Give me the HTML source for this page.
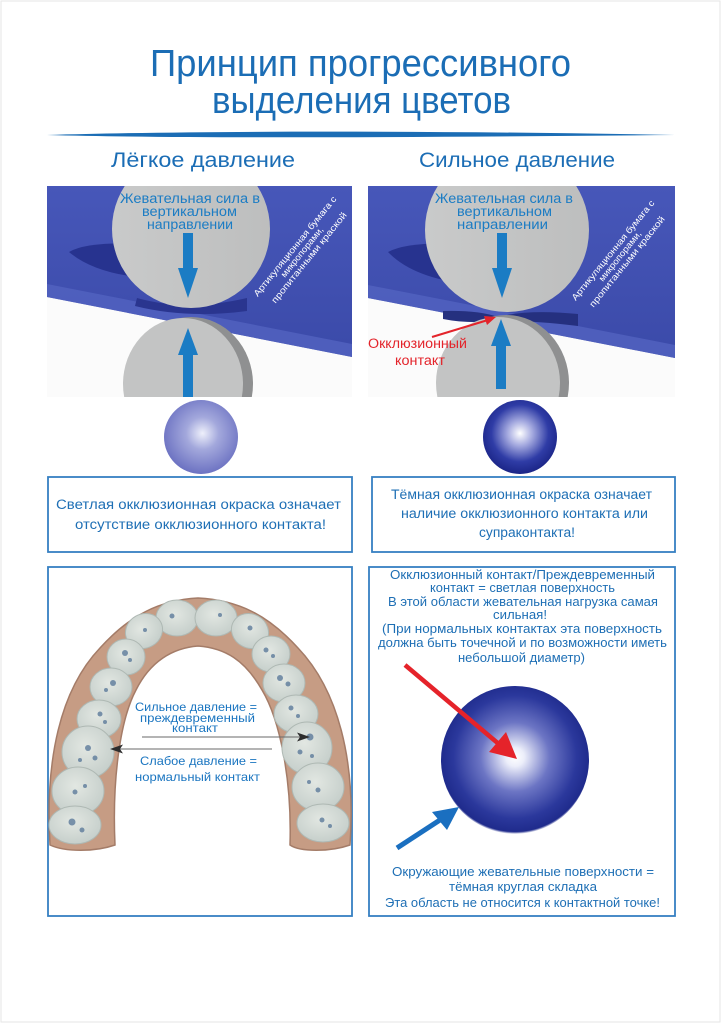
<!DOCTYPE html>
<html><head><meta charset="utf-8">
<style>
html,body{margin:0;padding:0;background:#fff;}
svg{display:block;}
text{font-family:"Liberation Sans","DejaVu Sans",sans-serif;}
</style></head>
<body>
<svg width="722" height="1024" viewBox="0 0 722 1024" xmlns="http://www.w3.org/2000/svg">
<defs>
  <linearGradient id="paper" x1="0" y1="0" x2="0" y2="1">
    <stop offset="0" stop-color="#4757b9"/>
    <stop offset="1" stop-color="#3b4aa9"/>
  </linearGradient>
  <linearGradient id="disc" x1="0" y1="0" x2="1" y2="0">
    <stop offset="0" stop-color="#c9caca"/>
    <stop offset="1" stop-color="#bdbebe"/>
  </linearGradient>
  <radialGradient id="sph1" cx="0.52" cy="0.45" r="0.55">
    <stop offset="0" stop-color="#eef0fb"/>
    <stop offset="0.4" stop-color="#a3a8dc"/>
    <stop offset="1" stop-color="#6c72c2"/>
  </radialGradient>
  <radialGradient id="sph2" cx="0.5" cy="0.45" r="0.55">
    <stop offset="0" stop-color="#ffffff"/>
    <stop offset="0.3" stop-color="#a6abe0"/>
    <stop offset="0.7" stop-color="#2f3ca6"/>
    <stop offset="1" stop-color="#1b2587"/>
  </radialGradient>
  <radialGradient id="sph3" cx="0.5" cy="0.48" r="0.52">
    <stop offset="0" stop-color="#ffffff"/>
    <stop offset="0.12" stop-color="#eceefa"/>
    <stop offset="0.45" stop-color="#6c75c4"/>
    <stop offset="0.8" stop-color="#2b389c"/>
    <stop offset="0.97" stop-color="#1f2b8c"/>
    <stop offset="1" stop-color="#1f2b8c" stop-opacity="0"/>
  </radialGradient>
  <radialGradient id="tooth" cx="0.45" cy="0.4" r="0.6">
    <stop offset="0" stop-color="#e2e7e2"/>
    <stop offset="1" stop-color="#c6cfcb"/>
  </radialGradient>
  <clipPath id="pc1"><rect x="0" y="0" width="305" height="211"/></clipPath>
  <clipPath id="pc2"><rect x="0" y="0" width="307" height="211"/></clipPath>
</defs>

<rect x="1" y="1" width="719" height="1021" fill="#fff" stroke="#e6e6e6" stroke-width="1"/>

<!-- Title -->
<text x="150" y="76" font-size="38" fill="#1b6db5" textLength="421" lengthAdjust="spacingAndGlyphs">Принцип прогрессивного</text>
<text x="212" y="113" font-size="38" fill="#1b6db5" textLength="299" lengthAdjust="spacingAndGlyphs">выделения цветов</text>
<path d="M47,135 C200,130.5 440,130.5 675,135 C440,137 200,139 47,135 Z" fill="#1b6db5"/>

<text x="111" y="167" font-size="21" fill="#1b6db5" textLength="184" lengthAdjust="spacingAndGlyphs">Лёгкое давление</text>
<text x="419" y="167" font-size="21" fill="#1b6db5" textLength="196" lengthAdjust="spacingAndGlyphs">Сильное давление</text>

<!-- Left top panel -->
<g transform="translate(47,186)">
 <g clip-path="url(#pc1)">
  <rect x="0" y="0" width="305" height="211" fill="#fbfbfb"/>
  <path d="M0,0 H305 V171 L0,111 Z" fill="url(#paper)"/>
  <path d="M0,98 L305,158 L305,171 L0,111 Z" fill="#5363c0" opacity="0.8"/>
  <path d="M22,66 Q40,55 100,58 L100,92 Q48,88 22,66 Z" fill="#27338f"/>
  <path d="M90,112 Q140,126 200,112 L200,125 Q140,133 88,120 Z" fill="#2a358f"/>
  <ellipse cx="144" cy="198" rx="62" ry="67" fill="#8f9091"/>
  <ellipse cx="136" cy="198" rx="60" ry="66" fill="#c3c4c4"/>
  <circle cx="144" cy="43" r="79" fill="url(#disc)"/>
  <rect x="136" y="47" width="10" height="37" fill="#1b7cc4"/>
  <polygon points="131,82 151,82 141,112" fill="#1b7cc4"/>
  <polygon points="131,169 151,169 141,142" fill="#1b7cc4"/>
  <rect x="136" y="167" width="10" height="44" fill="#1b7cc4"/>
  <text x="73" y="17" font-size="13.5" fill="#1b7cc4" textLength="140" lengthAdjust="spacingAndGlyphs">Жевательная сила в</text>
  <text x="95" y="30" font-size="13.5" fill="#1b7cc4" textLength="95" lengthAdjust="spacingAndGlyphs">вертикальном</text>
  <text x="100" y="43" font-size="13.5" fill="#1b7cc4" textLength="86" lengthAdjust="spacingAndGlyphs">направлении</text>
  <g transform="translate(255,66) rotate(-51)" fill="#ffffff" font-size="9" text-anchor="middle">
    <text x="0" y="-6" textLength="126" lengthAdjust="spacingAndGlyphs">Артикуляционная бумага с</text>
    <text x="0" y="3" textLength="62" lengthAdjust="spacingAndGlyphs">микропорами,</text>
    <text x="0" y="12" textLength="114" lengthAdjust="spacingAndGlyphs">пропитанными краской</text>
  </g>
 </g>
</g>

<!-- Right top panel -->
<g transform="translate(368,186)">
 <g clip-path="url(#pc2)">
  <rect x="0" y="0" width="307" height="211" fill="#fbfbfb"/>
  <path d="M0,0 H307 V172 L0,112 Z" fill="url(#paper)"/>
  <path d="M0,99 L307,159 L307,172 L0,112 Z" fill="#5363c0" opacity="0.8"/>
  <path d="M20,66 Q40,55 100,58 L100,98 Q45,92 20,66 Z" fill="#27338f"/>
  <path d="M75,125 Q110,124 130,131 Q160,123 210,128 L210,140 Q160,134 130,135 Q100,138 75,133 Z" fill="#25307f"/>
  <ellipse cx="138" cy="197" rx="63" ry="68" fill="#8f9091"/>
  <ellipse cx="130" cy="197" rx="62" ry="66" fill="#c3c4c4"/>
  <circle cx="139" cy="44" r="82" fill="url(#disc)"/>
  <rect x="129" y="47" width="10" height="37" fill="#1b7cc4"/>
  <polygon points="124,82 144,82 134,112" fill="#1b7cc4"/>
  <polygon points="123,160 143,160 133,133" fill="#1b7cc4"/>
  <rect x="128" y="158" width="10" height="45" fill="#1b7cc4"/>
  <text x="67" y="17" font-size="13.5" fill="#1b7cc4" textLength="138" lengthAdjust="spacingAndGlyphs">Жевательная сила в</text>
  <text x="89" y="30" font-size="13.5" fill="#1b7cc4" textLength="95" lengthAdjust="spacingAndGlyphs">вертикальном</text>
  <text x="89" y="43" font-size="13.5" fill="#1b7cc4" textLength="91" lengthAdjust="spacingAndGlyphs">направлении</text>
  <g transform="translate(252,70) rotate(-51)" fill="#ffffff" font-size="9" text-anchor="middle">
    <text x="0" y="-6" textLength="126" lengthAdjust="spacingAndGlyphs">Артикуляционная бумага с</text>
    <text x="0" y="3" textLength="62" lengthAdjust="spacingAndGlyphs">микропорами,</text>
    <text x="0" y="12" textLength="114" lengthAdjust="spacingAndGlyphs">пропитанными краской</text>
  </g>
  <line x1="64" y1="151" x2="120" y2="134" stroke="#e3242b" stroke-width="2"/>
  <polygon points="128,131 116,130 119,139" fill="#e3242b"/>
  <text x="0" y="162" font-size="13.5" fill="#e3242b" textLength="99" lengthAdjust="spacingAndGlyphs">Окклюзионный</text>
  <text x="27" y="179" font-size="13.5" fill="#e3242b" textLength="50" lengthAdjust="spacingAndGlyphs">контакт</text>
 </g>
</g>

<!-- Small spheres -->
<ellipse cx="201" cy="437" rx="37" ry="37" fill="url(#sph1)"/>
<ellipse cx="520" cy="437" rx="37" ry="37" fill="url(#sph2)"/>

<!-- Text boxes -->
<rect x="48" y="477" width="304" height="75" fill="none" stroke="#3680c2" stroke-width="1.8"/>
<rect x="372" y="477" width="303" height="75" fill="none" stroke="#3680c2" stroke-width="1.8"/>
<g font-size="13.5" fill="#1e6fb5">
 <text x="56" y="509" textLength="285" lengthAdjust="spacingAndGlyphs">Светлая окклюзионная окраска означает</text>
 <text x="75" y="529" textLength="251" lengthAdjust="spacingAndGlyphs">отсутствие окклюзионного контакта!</text>
 <text x="391" y="499" textLength="261" lengthAdjust="spacingAndGlyphs">Тёмная окклюзионная окраска означает</text>
 <text x="401" y="518" textLength="247" lengthAdjust="spacingAndGlyphs">наличие окклюзионного контакта или</text>
 <text x="479" y="537" textLength="96" lengthAdjust="spacingAndGlyphs">супраконтакта!</text>
</g>

<!-- Bottom boxes -->
<rect x="48" y="567" width="304" height="349" fill="none" stroke="#3680c2" stroke-width="1.8"/>
<rect x="369" y="567" width="306" height="349" fill="none" stroke="#3680c2" stroke-width="1.8"/>

<!-- Jaw -->
<path d="M50,845 C45,760 60,690 100,648 C130,615 160,600 198,598 C238,600 268,615 298,648 C338,690 356,760 350,845 C330,852 300,852 290,845 C292,780 280,720 262,690 C245,660 225,648 198,646 C172,648 150,662 136,690 C120,720 112,780 115,845 C95,852 65,852 50,845 Z" fill="#c69c84" stroke="#a47c68" stroke-width="1.5"/>
<g fill="url(#tooth)" stroke="#aeb8b3" stroke-width="1">
 <ellipse cx="177" cy="618" rx="21" ry="18"/>
 <ellipse cx="216" cy="618" rx="21" ry="18"/>
 <ellipse cx="144" cy="631" rx="19" ry="17" transform="rotate(-30 144 631)"/>
 <ellipse cx="250" cy="631" rx="19" ry="17" transform="rotate(30 250 631)"/>
 <ellipse cx="126" cy="657" rx="19" ry="18"/>
 <ellipse cx="271" cy="654" rx="19" ry="18"/>
 <ellipse cx="111" cy="687" rx="21" ry="19"/>
 <ellipse cx="284" cy="683" rx="21" ry="19"/>
 <ellipse cx="99" cy="719" rx="22" ry="19"/>
 <ellipse cx="296" cy="714" rx="22" ry="19"/>
 <ellipse cx="88" cy="752" rx="26" ry="26"/>
 <ellipse cx="307" cy="748" rx="25" ry="26"/>
 <ellipse cx="78" cy="791" rx="26" ry="24"/>
 <ellipse cx="318" cy="787" rx="26" ry="24"/>
 <ellipse cx="75" cy="825" rx="26" ry="19"/>
 <ellipse cx="323" cy="823" rx="26" ry="19"/>
</g>
<g fill="#5d7b9b" opacity="0.8">
 <circle cx="172" cy="616" r="2.5"/><circle cx="220" cy="615" r="2"/>
 <circle cx="145" cy="630" r="2"/><circle cx="250" cy="628" r="2.5"/>
 <circle cx="125" cy="653" r="3"/><circle cx="130" cy="660" r="2"/>
 <circle cx="266" cy="650" r="2.5"/><circle cx="273" cy="656" r="2"/>
 <circle cx="113" cy="683" r="3"/><circle cx="106" cy="690" r="2"/>
 <circle cx="280" cy="678" r="3"/><circle cx="288" cy="684" r="2.5"/>
 <circle cx="100" cy="714" r="2.5"/><circle cx="105" cy="722" r="2"/>
 <circle cx="291" cy="708" r="2.5"/><circle cx="298" cy="716" r="2"/>
 <circle cx="88" cy="748" r="3"/><circle cx="95" cy="758" r="2.5"/><circle cx="80" cy="760" r="2"/>
 <circle cx="310" cy="737" r="3.5"/><circle cx="300" cy="752" r="2.5"/><circle cx="312" cy="756" r="2"/>
 <circle cx="75" cy="792" r="2.5"/><circle cx="85" cy="786" r="2"/>
 <circle cx="318" cy="790" r="2.5"/><circle cx="309" cy="782" r="2"/>
 <circle cx="72" cy="822" r="3.5"/><circle cx="82" cy="830" r="2.5"/>
 <circle cx="322" cy="820" r="2.5"/><circle cx="330" cy="826" r="2"/>
</g>
<line x1="142" y1="737" x2="300" y2="737" stroke="#6a6a6a" stroke-width="1"/>
<polygon points="310,737 297,732.5 300,737 297,741.5" fill="#2d2d2d"/>
<line x1="272" y1="749" x2="118" y2="749" stroke="#6a6a6a" stroke-width="1"/>
<polygon points="110,749 123,744.5 120,749 123,753.5" fill="#2d2d2d"/>
<g font-size="12" fill="#1a75c0">
 <text x="135" y="711" textLength="122" lengthAdjust="spacingAndGlyphs">Сильное давление =</text>
 <text x="140" y="722" textLength="115" lengthAdjust="spacingAndGlyphs">преждевременный</text>
 <text x="172" y="732" textLength="46" lengthAdjust="spacingAndGlyphs">контакт</text>
 <text x="140" y="765" textLength="117" lengthAdjust="spacingAndGlyphs">Слабое давление =</text>
 <text x="135" y="781" textLength="125" lengthAdjust="spacingAndGlyphs">нормальный контакт</text>
</g>

<!-- Right bottom box -->
<g font-size="12.5" fill="#1e6fb5">
 <text x="390" y="579" textLength="265" lengthAdjust="spacingAndGlyphs">Окклюзионный контакт/Преждевременный</text>
 <text x="430" y="592" textLength="185" lengthAdjust="spacingAndGlyphs">контакт = светлая поверхность</text>
 <text x="388" y="606" textLength="270" lengthAdjust="spacingAndGlyphs">В этой области жевательная нагрузка самая</text>
 <text x="493" y="619" textLength="54" lengthAdjust="spacingAndGlyphs">сильная!</text>
 <text x="382" y="633" textLength="280" lengthAdjust="spacingAndGlyphs">(При нормальных контактах эта поверхность</text>
 <text x="378" y="647" textLength="289" lengthAdjust="spacingAndGlyphs">должна быть точечной и по возможности иметь</text>
 <text x="458" y="662" textLength="127" lengthAdjust="spacingAndGlyphs">небольшой диаметр)</text>
 <text x="392" y="876" textLength="262" lengthAdjust="spacingAndGlyphs">Окружающие жевательные поверхности =</text>
 <text x="449" y="891" textLength="148" lengthAdjust="spacingAndGlyphs">тёмная круглая складка</text>
 <text x="385" y="907" textLength="275" lengthAdjust="spacingAndGlyphs">Эта область не относится к контактной точке!</text>
</g>
<circle cx="515" cy="760" r="74" fill="url(#sph3)"/>
<line x1="405" y1="665" x2="500" y2="745" stroke="#e5232a" stroke-width="4.5"/>
<polygon points="517,759 489,752 506,732" fill="#e5232a"/>
<line x1="397" y1="848" x2="443" y2="818" stroke="#1a6fc0" stroke-width="5"/>
<polygon points="459,807 432,812 447,830" fill="#1a6fc0"/>
</svg>
</body></html>
